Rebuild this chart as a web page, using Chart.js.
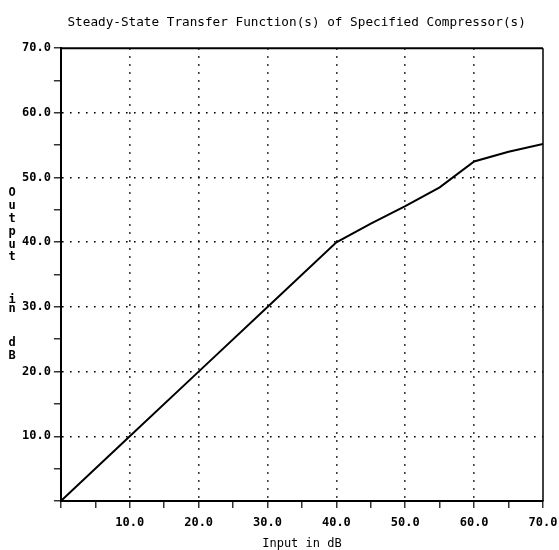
<!DOCTYPE html>
<html>
<head>
<meta charset="utf-8">
<script src="https://cdn.jsdelivr.net/npm/chart.js@4/dist/chart.umd.min.js"></script>
<style>
  html, body { margin: 0; padding: 0; background: #fff; }
  #wrap { position: relative; width: 559px; height: 550px; }
</style>
</head>
<body>
<div id="wrap"><canvas id="myChart"></canvas></div>
<script>
// input level (dB) and compressor output level (dB)
var inputDb = [0, 10, 20, 30, 40, 45, 50, 55, 60, 65, 70];
var outputDb = [0, 10, 20, 30, 40, 42.9, 45.6, 48.5, 52.5, 54, 55.2];

var titleText = "  Steady-State Transfer Function(s) of Specified Compressor(s)";
var xTitle = "Input in dB";
var yTitleLetters = ["O", "u", "t", "p", "u", "t", "i", "n", "d", "B"];
var yTitleRows = [193, 206, 219, 232, 245, 257, 300, 309, 343, 356];

var mono = "'DejaVu Sans Mono', 'Liberation Mono', monospace";

function isMajor(v) {
    return v % 10 === 0;
}

// frame on top/right plus the stacked y-axis caption
var framePlugin = {
    id: 'frame',
    afterDraw: function (chart) {
        var ctx = chart.ctx;
        var a = chart.chartArea;
        ctx.save();
        ctx.strokeStyle = '#000';
        ctx.lineWidth = 2;
        ctx.beginPath();
        ctx.moveTo(a.left, a.top);
        ctx.lineTo(a.right, a.top);
        ctx.stroke();
        ctx.lineWidth = 1.5;
        ctx.beginPath();
        ctx.moveTo(a.right, a.top);
        ctx.lineTo(a.right, a.bottom);
        ctx.stroke();

        ctx.fillStyle = '#000';
        ctx.font = 'bold 12px ' + mono;
        ctx.textAlign = 'center';
        ctx.textBaseline = 'middle';
        for (var i = 0; i < yTitleLetters.length; i++) {
            ctx.fillText(yTitleLetters[i], 12, yTitleRows[i]);
        }
        ctx.restore();
    }
};

var points = [];
for (var i = 0; i < inputDb.length; i++) {
    points.push({ x: inputDb[i], y: outputDb[i] });
}

function axis(titleOpts) {
    return {
        type: 'linear',
        min: 0,
        max: 70,
        grid: {
            color: function (c) {
                var v = c.tick ? c.tick.value : 0;
                return (isMajor(v) && v !== 0 && v !== 70) ? '#000' : 'rgba(0,0,0,0)';
            },
            lineWidth: 1.6,
            tickColor: '#000',
            tickLength: 7,
            tickWidth: 1.2
        },
        border: { color: '#000', width: 2, dash: [1.6, 6.4] },
        ticks: {
            stepSize: 5,
            autoSkip: false,
            maxRotation: 0,
            color: '#000',
            padding: 3,
            font: { family: mono, size: 12, weight: 'bold', lineHeight: 1 },
            callback: function (v) {
                if (v === 0 || !isMajor(v)) return '';
                return v.toFixed(1);
            }
        },
        title: titleOpts
    };
}

var xAxis = axis({
    display: true,
    text: xTitle,
    color: '#000',
    font: { family: mono, size: 12, lineHeight: 1 },
    padding: { top: 0, bottom: 0 }
});
xAxis.ticks.padding = 9;
// the last tick label only needs half its width on the right
xAxis.afterFit = function (scale) {
    scale.paddingRight = 16;
};

new Chart("myChart", {
    type: 'line',
    data: {
        datasets: [{
            data: points,
            borderColor: '#000',
            borderWidth: 2,
            pointRadius: 0,
            tension: 0,
            fill: false
        }]
    },
    options: {
        responsive: true,
        maintainAspectRatio: false,
        animation: false,
        layout: { padding: { left: 19, right: 0, top: 0, bottom: 0 } },
        scales: {
            x: xAxis,
            y: axis({ display: false })
        },
        plugins: {
            legend: { display: false },
            tooltip: { enabled: false },
            title: {
                display: true,
                text: titleText,
                color: '#000',
                font: { family: mono, size: 12.7, weight: 'normal' },
                padding: { top: 15, bottom: 18 }
            }
        }
    },
    plugins: [framePlugin]
});
</script>
</body>
</html>
